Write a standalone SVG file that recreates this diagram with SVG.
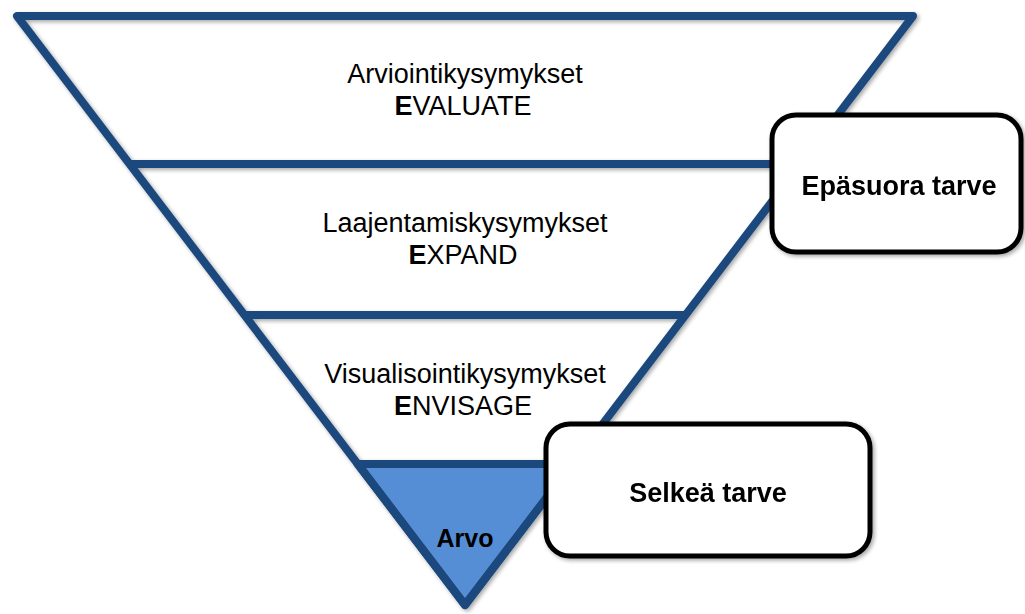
<svg xmlns="http://www.w3.org/2000/svg" width="1025" height="614" viewBox="0 0 1025 614">
  <defs>
    <filter id="shadow" x="-10%" y="-10%" width="120%" height="120%">
      <feGaussianBlur in="SourceAlpha" stdDeviation="2"/>
      <feOffset dx="2" dy="2" result="b"/>
      <feComponentTransfer><feFuncA type="linear" slope="0.35"/></feComponentTransfer>
      <feMerge><feMergeNode/><feMergeNode in="SourceGraphic"/></feMerge>
    </filter>
    <style>
      .edge { fill: none; stroke: #1f497d; stroke-width: 8; stroke-linejoin: round; stroke-linecap: butt; }
      .tip { fill: #558ed5; stroke: #1f497d; stroke-width: 8; stroke-linejoin: round; }
      .box { fill: #ffffff; stroke: #000000; stroke-width: 5; }
      .lbl { font-family: "Liberation Sans", Arial, sans-serif; font-size: 27px; fill: #000; text-anchor: middle; }
      .b { font-weight: bold; }
    </style>
  </defs>

  <!-- funnel levels -->
  <g id="funnel" filter="url(#shadow)">
    <polygon id="arvo" class="tip" points="357.7,464 572.3,464 465,605"/>
    <polygon id="outline" class="edge" points="17,16 913,16 465,605"/>
    <line class="edge" x1="129.6" y1="164" x2="800.4" y2="164"/>
    <line class="edge" x1="244.4" y1="315" x2="685.6" y2="315"/>
  </g>

  <g id="level-evaluate">
    <text class="lbl" x="465" y="83">Arviointikysymykset</text>
    <text class="lbl" x="463" y="115"><tspan class="b">E</tspan>VALUATE</text>
  </g>
  <g id="level-expand">
    <text class="lbl" x="465" y="232">Laajentamiskysymykset</text>
    <text class="lbl" x="463" y="264"><tspan class="b">E</tspan>XPAND</text>
  </g>
  <g id="level-envisage">
    <text class="lbl" x="465" y="383">Visualisointikysymykset</text>
    <text class="lbl" x="463" y="415"><tspan class="b">E</tspan>NVISAGE</text>
  </g>
  <g id="level-arvo">
    <text class="lbl b" x="465" y="547" style="font-size:25px">Arvo</text>
  </g>

  <!-- need boxes -->
  <g id="epasuora-tarve" filter="url(#shadow)">
    <rect class="box" x="772" y="115" width="249" height="137" rx="24"/>
    <text class="lbl b" x="899" y="195">Epäsuora tarve</text>
  </g>
  <g id="selkea-tarve" filter="url(#shadow)">
    <rect class="box" x="546" y="424" width="324" height="132" rx="24"/>
    <text class="lbl b" x="708" y="502">Selkeä tarve</text>
  </g>

  <g id="connectors"></g>
</svg>
